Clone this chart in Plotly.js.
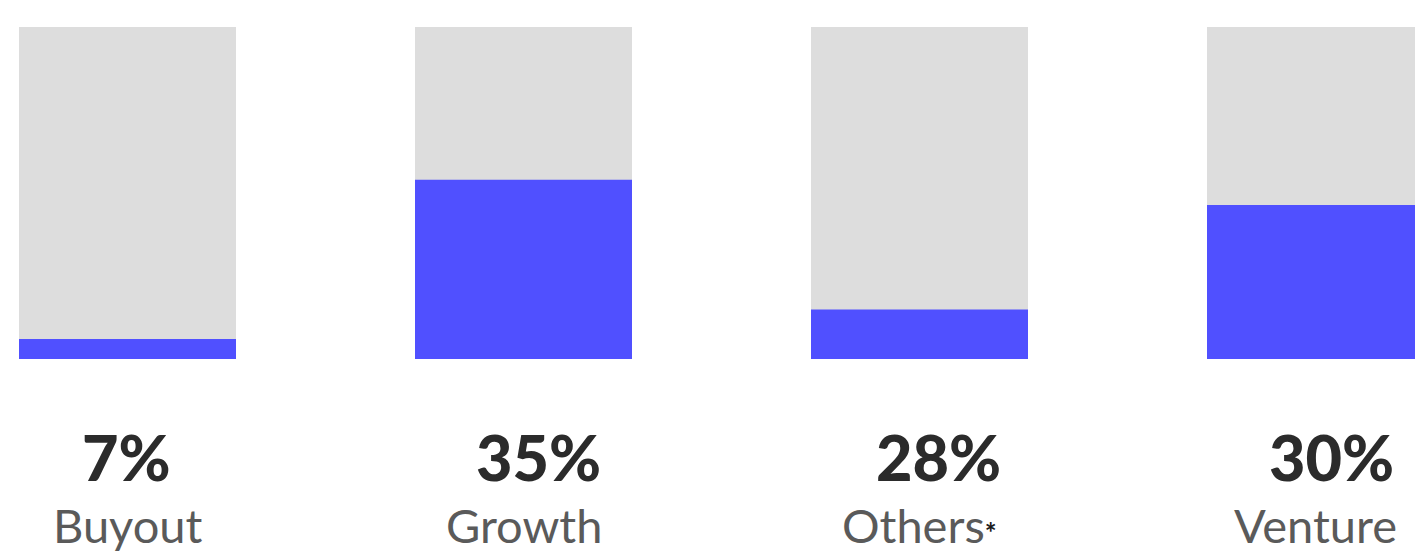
<!DOCTYPE html>
<html>
<head>
<meta charset="utf-8">
<script src="https://cdn.plot.ly/plotly-3.0.1.min.js"></script>
<style>
  html, body { margin: 0; padding: 0; background: #ffffff; overflow: hidden; }
  #chart { width: 1415px; height: 554px; }
</style>
</head>
<body>
<div id="chart"></div>
<script>
// Data
const categories = ["Buyout", "Growth", "Others*", "Venture"];
const shareLabels = ["7%", "35%", "28%", "30%"];
// Height of the blue fill, as a share of the full grey bar (0-100)
const fillValues = [6, 54, 14.9, 46.4];
const trackValues = [100, 100, 100, 100];

const xIdx = categories.map((c, i) => i);
const labelShift = [-1, 15, 19, 16];

const trackTrace = {
  type: "bar",
  x: xIdx,
  y: trackValues,
  width: 0.548,
  marker: { color: "#dddddd", line: { width: 0 } },
  hoverinfo: "skip",
  showlegend: false
};
const fillTrace = {
  type: "bar",
  x: xIdx,
  y: fillValues,
  width: 0.548,
  marker: { color: "#5050ff", line: { width: 0 } },
  hoverinfo: "skip",
  showlegend: false
};

const H = 554, T = 27, B = 195;
const plotH = H - T - B;
function pyToPaper(py) { return (H - B - py) / plotH; }

const annotations = [];
categories.forEach((c, i) => {
  annotations.push({
    x: i, xref: "x", y: pyToPaper(496), yref: "paper", yanchor: "bottom",
    text: shareLabels[i],
    showarrow: false,
    xshift: labelShift[i],
    font: { family: "Lato, 'DejaVu Sans', sans-serif", size: 63, weight: 900, color: "#2b2b2b" }
  });
  const name = c.endsWith("*")
    ? c.slice(0, -1) + "<span style=\"font-size:28px;color:#1a1a1a\"><b>*</b></span>"
    : c;
  annotations.push({
    x: i, xref: "x", y: pyToPaper(555), yref: "paper", yanchor: "bottom",
    text: name,
    showarrow: false,
    font: { family: "Lato, 'DejaVu Sans', sans-serif", size: 47, color: "#5a5a5a" }
  });
});

const layout = {
  width: 1415,
  height: 554,
  margin: { l: 0, r: 0, t: T, b: B, pad: 0 },
  paper_bgcolor: "#ffffff",
  plot_bgcolor: "#ffffff",
  barmode: "overlay",
  xaxis: {
    range: [-0.32197, 3.25126],
    visible: false,
    fixedrange: true
  },
  yaxis: {
    range: [0, 100],
    visible: false,
    fixedrange: true
  },
  annotations: annotations,
  showlegend: false
};

Plotly.newPlot("chart", [trackTrace, fillTrace], layout, { displayModeBar: false, staticPlot: true });
</script>
</body>
</html>
